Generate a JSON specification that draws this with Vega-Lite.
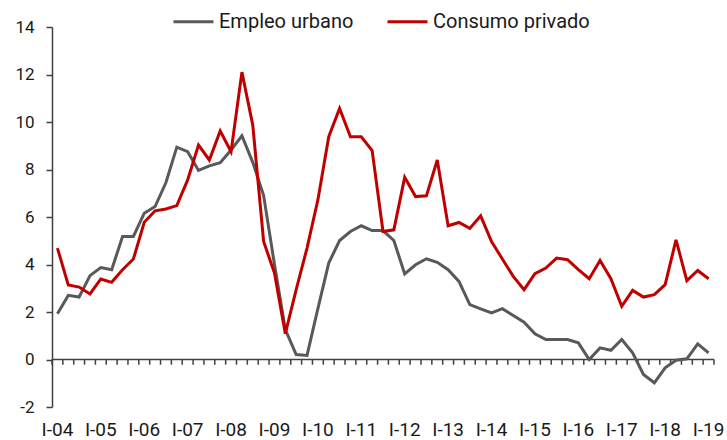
{
  "$schema": "https://vega.github.io/schema/vega-lite/v6.json",
  "width": 662,
  "height": 380,
  "autosize": "none",
  "padding": {"left": 52, "top": 27, "right": 13, "bottom": 33},
  "background": "white",
  "config": {
    "view": {"stroke": null},
    "font": "Roboto",
    "axis": {"grid": false, "title": null},
    "axisX": {"domain": false, "ticks": false, "labelAngle": 0, "labelPadding": 13, "labelFontSize": 19, "labelColor": "#1a1a1a", "labelOverlap": false},
    "axisY": {"domainColor": "#404040", "domainWidth": 1.5, "tickColor": "#404040", "tickWidth": 1.5, "tickSize": 6, "labelPadding": 12, "labelFontSize": 17, "labelColor": "#1a1a1a"}
  },
  "data": {"values": [
    {"q": "I-04", "e": 1.93, "c": 4.69},
    {"q": "II-04", "e": 2.70, "c": 3.14},
    {"q": "III-04", "e": 2.63, "c": 3.05},
    {"q": "IV-04", "e": 3.53, "c": 2.76},
    {"q": "I-05", "e": 3.87, "c": 3.39},
    {"q": "II-05", "e": 3.78, "c": 3.25},
    {"q": "III-05", "e": 5.18, "c": 3.78},
    {"q": "IV-05", "e": 5.18, "c": 4.23},
    {"q": "I-06", "e": 6.16, "c": 5.78},
    {"q": "II-06", "e": 6.44, "c": 6.26},
    {"q": "III-06", "e": 7.45, "c": 6.34},
    {"q": "IV-06", "e": 8.94, "c": 6.48},
    {"q": "I-07", "e": 8.75, "c": 7.56},
    {"q": "II-07", "e": 7.96, "c": 9.03},
    {"q": "III-07", "e": 8.15, "c": 8.40},
    {"q": "IV-07", "e": 8.29, "c": 9.62},
    {"q": "I-08", "e": 8.82, "c": 8.75},
    {"q": "II-08", "e": 9.42, "c": 12.10},
    {"q": "III-08", "e": 8.30, "c": 9.87},
    {"q": "IV-08", "e": 6.90, "c": 4.97},
    {"q": "I-09", "e": 4.00, "c": 3.64},
    {"q": "II-09", "e": 1.26, "c": 1.09},
    {"q": "III-09", "e": 0.21, "c": 2.94},
    {"q": "IV-09", "e": 0.17, "c": 4.69},
    {"q": "I-10", "e": 2.14, "c": 6.72},
    {"q": "II-10", "e": 4.06, "c": 9.38},
    {"q": "III-10", "e": 5.01, "c": 10.57},
    {"q": "IV-10", "e": 5.39, "c": 9.38},
    {"q": "I-11", "e": 5.63, "c": 9.38},
    {"q": "II-11", "e": 5.43, "c": 8.80},
    {"q": "III-11", "e": 5.43, "c": 5.39},
    {"q": "IV-11", "e": 5.01, "c": 5.46},
    {"q": "I-12", "e": 3.60, "c": 7.67},
    {"q": "II-12", "e": 3.99, "c": 6.86},
    {"q": "III-12", "e": 4.24, "c": 6.89},
    {"q": "IV-12", "e": 4.09, "c": 8.40},
    {"q": "I-13", "e": 3.78, "c": 5.63},
    {"q": "II-13", "e": 3.29, "c": 5.77},
    {"q": "III-13", "e": 2.31, "c": 5.52},
    {"q": "IV-13", "e": 2.13, "c": 6.05},
    {"q": "I-14", "e": 1.96, "c": 4.97},
    {"q": "II-14", "e": 2.14, "c": 4.23},
    {"q": "III-14", "e": 1.85, "c": 3.50},
    {"q": "IV-14", "e": 1.57, "c": 2.94},
    {"q": "I-15", "e": 1.08, "c": 3.61},
    {"q": "II-15", "e": 0.84, "c": 3.85},
    {"q": "III-15", "e": 0.84, "c": 4.27},
    {"q": "IV-15", "e": 0.84, "c": 4.20},
    {"q": "I-16", "e": 0.70, "c": 3.78},
    {"q": "II-16", "e": 0.00, "c": 3.40},
    {"q": "III-16", "e": 0.49, "c": 4.17},
    {"q": "IV-16", "e": 0.39, "c": 3.40},
    {"q": "I-17", "e": 0.84, "c": 2.24},
    {"q": "II-17", "e": 0.28, "c": 2.91},
    {"q": "III-17", "e": -0.63, "c": 2.63},
    {"q": "IV-17", "e": -0.98, "c": 2.73},
    {"q": "I-18", "e": -0.35, "c": 3.15},
    {"q": "II-18", "e": -0.03, "c": 5.04},
    {"q": "III-18", "e": 0.03, "c": 3.32},
    {"q": "IV-18", "e": 0.66, "c": 3.75},
    {"q": "I-19", "e": 0.28, "c": 3.40}
  ]},
  "layer": [
    {
      "mark": {"type": "rule", "color": "#404040", "strokeWidth": 1.5},
      "encoding": {
        "x": {"field": "q", "type": "ordinal", "sort": null, "bandPosition": 0,
              "scale": {"type": "band", "paddingInner": 0, "paddingOuter": 0},
              "axis": {"labelExpr": "indexof(datum.value, 'I-') == 0 ? datum.value : ''"}},
        "y": {"datum": 0, "scale": {"domain": [-2, 14], "nice": false, "zero": false}},
        "y2": {"datum": -0.22}
      }
    },
    {
      "transform": [{"filter": {"field": "q", "equal": "I-19"}}],
      "mark": {"type": "rule", "color": "#404040", "strokeWidth": 1.5},
      "encoding": {
        "x": {"field": "q", "type": "ordinal", "sort": null, "bandPosition": 1,
              "axis": {"labelExpr": "indexof(datum.value, 'I-') == 0 ? datum.value : ''"}},
        "y": {"datum": 0},
        "y2": {"datum": -0.22}
      }
    },
    {
      "data": {"values": [{"z": 0}]},
      "mark": {"type": "rule", "color": "#404040", "strokeWidth": 1.5},
      "encoding": {"y": {"field": "z", "type": "quantitative"}}
    },
    {
      "transform": [{"fold": ["e", "c"], "as": ["s", "v"]}],
      "mark": {"type": "line", "strokeWidth": 3},
      "encoding": {
        "x": {"field": "q", "type": "ordinal", "sort": null,
              "axis": {"labelExpr": "indexof(datum.value, 'I-') == 0 ? datum.value : ''"}},
        "y": {"field": "v", "type": "quantitative",
              "axis": {"values": [-2, 0, 2, 4, 6, 8, 10, 12, 14], "labelExpr": "'' + datum.value"}},
        "color": {
          "field": "s", "type": "nominal",
          "scale": {"domain": ["e", "c"], "range": ["#595959", "#c00000"]},
          "legend": {
            "title": null, "orient": "none", "legendX": 120, "legendY": -27,
            "direction": "horizontal", "symbolType": "stroke", "symbolSize": 1600,
            "symbolStrokeWidth": 3, "labelFontSize": 20, "labelColor": "#1a1a1a",
            "labelOffset": 4, "columnPadding": 27,
            "labelExpr": "datum.value == 'e' ? 'Empleo urbano' : 'Consumo privado'"
          }
        }
      }
    }
  ]
}
